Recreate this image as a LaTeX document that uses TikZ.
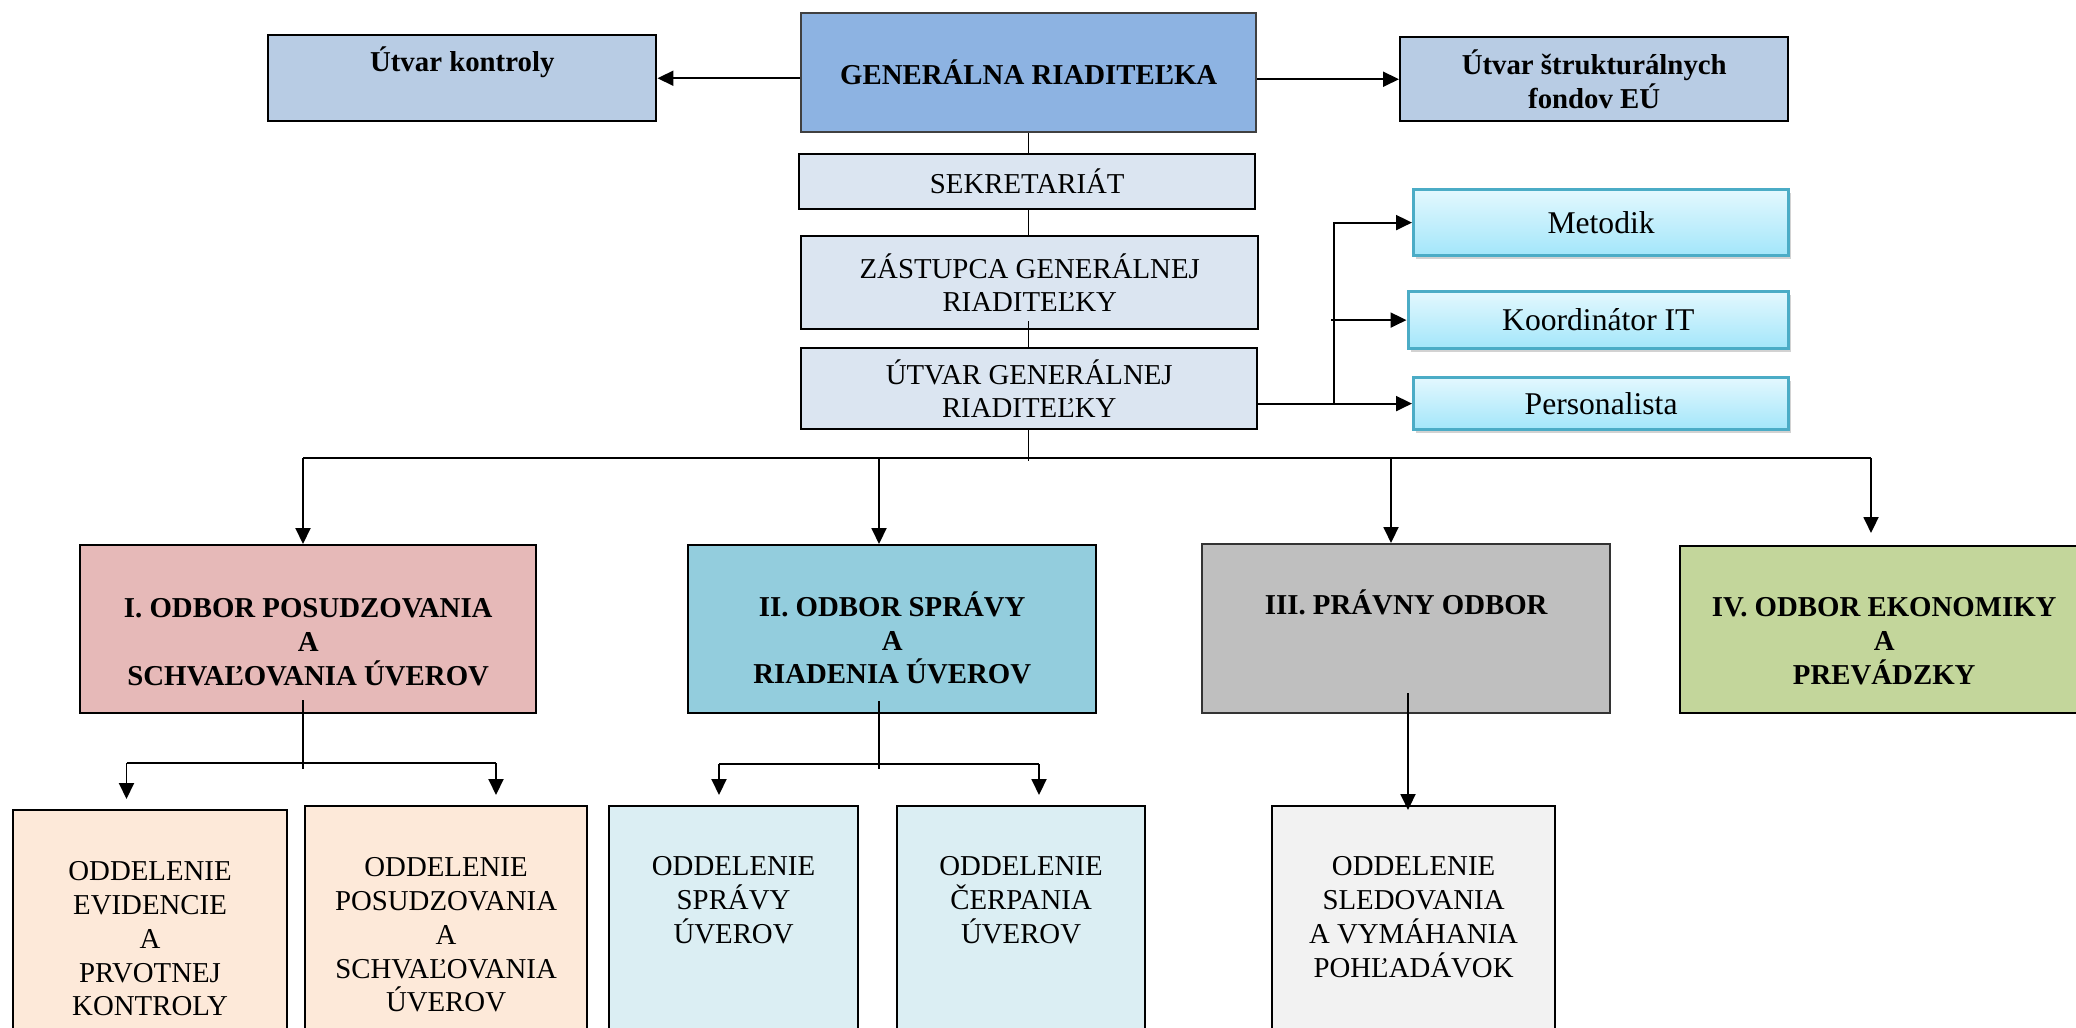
\documentclass[tikz,border=0pt]{standalone}
\usepackage{fontspec}
\setmainfont{Liberation Serif}
\usepackage{tikz}
\usetikzlibrary{arrows.meta}
\usetikzlibrary{positioning}
\usetikzlibrary{shadows}
\definecolor{genblue}{HTML}{8DB3E2}
\definecolor{sideblue}{HTML}{B8CCE4}
\definecolor{paleblue}{HTML}{DBE5F1}
\definecolor{cyanline}{HTML}{4BACC6}
\definecolor{cyantop}{HTML}{E3F8FE}
\definecolor{cyanbot}{HTML}{A3E6FA}
\definecolor{odbrose}{HTML}{E6B9B8}
\definecolor{odbaqua}{HTML}{93CDDD}
\definecolor{odbgray}{HTML}{BFBFBF}
\definecolor{odbolive}{HTML}{C3D69B}
\definecolor{oddpeach}{HTML}{FDE9D9}
\definecolor{oddaqua}{HTML}{DBEEF3}
\definecolor{oddgray}{HTML}{F2F2F2}
\tikzset{
    unit/.style = {draw=black,line width=0.7pt,inner sep=0,anchor=north west,
        align=center,font=\fontsize{8.2}{9.6}\selectfont},
    boss/.style = {unit,fill=genblue,draw=black!75,font=\fontsize{8.2}{9.6}\selectfont\bfseries},
    side/.style = {unit,fill=sideblue,font=\fontsize{8.2}{9.6}\selectfont\bfseries},
    staff/.style = {unit,fill=paleblue},
    role/.style = {unit,draw=cyanline,line width=0.9pt,top color=cyantop,bottom color=cyanbot,
        font=\fontsize{9}{10}\selectfont,
        drop shadow={shadow xshift=0.025cm,shadow yshift=-0.035cm,fill=black!35,opacity=0.5}},
    oddel/.style = {unit,line width=0.6pt},
    caption/.style = {inner sep=0,align=center,anchor=north,font=\fontsize{8.2}{9.6}\selectfont},
    bcaption/.style = {caption,font=\fontsize{8.2}{9.6}\selectfont\bfseries}
}
\tikzset{
    wire/.style = {line width=0.55pt},
    feed/.style = {wire,-{Triangle[length=1.6mm,width=1.5mm]}}
}
\begin{document}
\begin{tikzpicture}
        \useasboundingbox (0,0) rectangle (20.76,-10.27);
        % Management
        \node[boss,minimum width=4.55cm,minimum height=1.19cm] (gen) at (8.00,-0.12)
            {GENERÁLNA RIADITEĽKA};
        \node[side,minimum width=3.88cm,minimum height=0.86cm,
            label={[bcaption,yshift=-0.12cm]north:Útvar kontroly}] (kontr) at (2.67,-0.34) {};
        \node[side,minimum width=3.88cm,minimum height=0.84cm] (struk) at (13.99,-0.36)
            {Útvar štrukturálnych\\fondov EÚ};
        \node[staff,minimum width=4.56cm,minimum height=0.55cm] (sekr) at (7.98,-1.53)
            {SEKRETARIÁT};
        \node[staff,minimum width=4.57cm,minimum height=0.93cm] (zast) at (8.00,-2.35)
            {ZÁSTUPCA GENERÁLNEJ\\RIADITEĽKY};
        \node[staff,minimum width=4.56cm,minimum height=0.81cm] (utvar) at (8.00,-3.47)
            {ÚTVAR GENERÁLNEJ\\RIADITEĽKY};
        % Staff roles
        \node[role,minimum width=3.75cm,minimum height=0.66cm] (metodik) at (14.12,-1.88) {Metodik};
        \node[role,minimum width=3.805cm,minimum height=0.57cm] (koord) at (14.065,-2.90) {Koordinátor IT};
        \node[role,minimum width=3.75cm,minimum height=0.52cm] (pers) at (14.12,-3.76) {Personalista};
        % Departments
        \node[unit,fill=odbrose,minimum width=4.56cm,minimum height=1.68cm,
            label={[bcaption,yshift=-0.54cm]north:I. ODBOR POSUDZOVANIA\\A\\SCHVAĽOVANIA ÚVEROV}]
            (o1) at (0.79,-5.44) {};
        \node[unit,fill=odbaqua,minimum width=4.08cm,minimum height=1.68cm,
            label={[bcaption,yshift=-0.47cm]north:II. ODBOR SPRÁVY\\A\\RIADENIA ÚVEROV}]
            (o2) at (6.87,-5.44) {};
        \node[unit,fill=odbgray,draw=black!80,minimum width=4.08cm,minimum height=1.69cm,
            label={[bcaption,yshift=-0.465cm]north:III. PRÁVNY ODBOR}]
            (o3) at (12.01,-5.43) {};
        \node[unit,fill=odbolive,minimum width=4.08cm,minimum height=1.67cm,
            label={[bcaption,yshift=-0.52cm]north:IV. ODBOR EKONOMIKY\\A\\PREVÁDZKY}]
            (o4) at (16.79,-5.45) {};
        % Sections
        \node[oddel,fill=oddpeach,minimum width=2.74cm,minimum height=3cm,
            label={[caption,yshift=-0.52cm]north:ODDELENIE\\EVIDENCIE\\A\\PRVOTNEJ\\KONTROLY}]
            (dA) at (0.12,-8.09) {};
        \node[oddel,fill=oddpeach,minimum width=2.82cm,minimum height=3cm,
            label={[caption,yshift=-0.52cm]north:ODDELENIE\\POSUDZOVANIA\\A\\SCHVAĽOVANIA\\ÚVEROV}]
            (dB) at (3.04,-8.05) {};
        \node[oddel,fill=oddaqua,minimum width=2.49cm,minimum height=3cm,
            label={[caption,yshift=-0.51cm]north:ODDELENIE\\SPRÁVY\\ÚVEROV}]
            (dC) at (6.08,-8.05) {};
        \node[oddel,fill=oddaqua,minimum width=2.48cm,minimum height=3cm,
            label={[caption,yshift=-0.51cm]north:ODDELENIE\\ČERPANIA\\ÚVEROV}]
            (dD) at (8.96,-8.05) {};
        \node[oddel,fill=oddgray,minimum width=2.83cm,minimum height=3cm,
            label={[caption,yshift=-0.51cm]north:ODDELENIE\\SLEDOVANIA\\A VYMÁHANIA\\POHĽADÁVOK}]
            (dE) at (12.71,-8.05) {};
        % Junctions
        \coordinate (spine) at (10.285,-1);
        \coordinate (itx) at (13.34,-3);
        \coordinate (b1) at (3.03,-4.58);
        \coordinate (b2) at (8.79,-4.58);
        \coordinate (b3) at (13.91,-4.58);
        \coordinate (b4) at (18.71,-4.58);
        \coordinate (s1a) at (1.265,-7.63);
        \coordinate (s1b) at (4.96,-7.63);
        \coordinate (s2a) at (7.19,-7.64);
        \coordinate (s2b) at (10.39,-7.64);
        \coordinate (s3) at (14.08,-7);
        % Top row
        \draw[feed] (gen.west |- kontr.east) -- (kontr.east);
        \draw[feed] (gen.east |- struk.west) -- (struk.west);
        \foreach \src/\dest/\lift in {gen/sekr/0,sekr/zast/0,zast/utvar/0.09}
            \draw[wire] ([yshift=\lift cm]spine |- \src.south) -- (spine |- \dest.north);
        % Staff roles
        \draw[feed] (utvar.east |- pers.west) -- (pers.west);
        \draw[feed] (itx |- pers.west) |- (metodik.west);
        \draw[feed] ([xshift=-0.03cm]itx |- koord.west) -- (koord.west);
        % Departments
        \draw[wire] (spine |- utvar.south) -- ([yshift=-0.03cm]spine |- b1);
        \draw[wire] (b1) -- (b4);
        \foreach \src/\dest in {b1/o1,b2/o2,b3/o3}
            \draw[feed] (\src) -- (\src |- \dest.north);
        \draw[feed] (b4) -- ([yshift=0.12cm]b4 |- o4.north);
        % Sections
        \draw[wire] ([yshift=0.14cm]b1 |- o1.south) -- ([yshift=-0.06cm]b1 |- s1a);
        \draw[wire] ([yshift=0.13cm]b2 |- o2.south) -- ([yshift=-0.05cm]b2 |- s2a);
        \draw[wire] (s1a) -- (s1b);
        \draw[wire] (s2a) -- (s2b);
        \foreach \src/\dest in {s1a/dA,s1b/dB,s2a/dC,s2b/dD}
            \draw[feed] (\src) -- ([yshift=0.1cm]\src |- \dest.north);
        \draw[feed] ([yshift=0.21cm]s3 |- o3.south) -- ([yshift=-0.05cm]s3 |- dE.north);
    \end{tikzpicture}
\end{document}
